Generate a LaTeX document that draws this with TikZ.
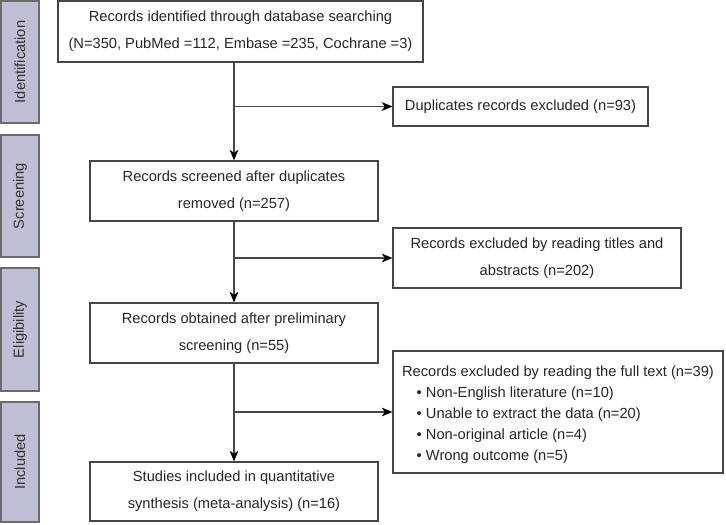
\documentclass[tikz,border=0pt]{standalone}
\usepackage{fontspec}
\setmainfont{Liberation Sans}
\usetikzlibrary{arrows.meta}
\definecolor{barfill}{RGB}{190,190,213}
\definecolor{linegray}{RGB}{70,70,70}
\tikzset{
  box/.style={draw=linegray, line width=0.8pt, fill=white, inner sep=2pt, align=center,
    font=\fontsize{11}{20.25}\selectfont, text=black!85},
  bar/.style={draw=linegray!80, line width=0.8pt, fill=barfill, minimum width=38*0.75pt,
    inner sep=0pt, font=\fontsize{11}{12}\selectfont, text=black!80},
  conn/.style={draw=linegray, line width=0.8pt},
  arr/.style={conn, -{Stealth[length=8pt,width=6.5pt,inset=2.2pt,fill=black,color=black]}},
}
\begin{document}
\begin{tikzpicture}[x=0.75pt,y=-0.75pt]
\useasboundingbox (0,0) rectangle (726,525);
% phase bars
\node[bar, minimum height=122*0.75pt] (bid) at (20,62) {\rotatebox{90}{Identification}};
\node[bar, minimum height=122*0.75pt] (bsc) at (20,196) {\rotatebox{90}{Screening}};
\node[bar, minimum height=123*0.75pt] (bel) at (20,329.5) {\rotatebox{90}{Eligibility}};
\node[bar, minimum height=120*0.75pt] (bin) at (20,462) {\rotatebox{90}{Included}};
% main boxes
\node[box, minimum width=365*0.75pt, minimum height=61*0.75pt] (top) at (240.5,31.5)
  {Records identified through database searching\\(N=350, PubMed =112, Embase =235, Cochrane =3)};
\node[box, minimum width=288*0.75pt, minimum height=60*0.75pt] (scr) at (234,191)
  {Records screened after duplicates\\removed (n=257)};
\node[box, minimum width=288*0.75pt, minimum height=60*0.75pt] (eli) at (234,333)
  {Records obtained after preliminary\\screening (n=55)};
\node[box, minimum width=288*0.75pt, minimum height=59*0.75pt] (inc) at (234,491.5)
  {Studies included in quantitative\\synthesis (meta-analysis) (n=16)};
% exclusion boxes
\node[box, minimum width=255*0.75pt, minimum height=39*0.75pt] (dup) at (520.5,106.5)
  {Duplicates records excluded (n=93)};
\node[box, minimum width=288*0.75pt, minimum height=60*0.75pt] (tit) at (537,258)
  {Records excluded by reading titles and\\abstracts (n=202)};
\node[box, minimum width=330*0.75pt, minimum height=122*0.75pt, align=left,
  font=\fontsize{11}{15.75}\selectfont] (ful) at (558,412)
  {\rule{0pt}{12.5pt}Records excluded by reading the full text (n=39)\\
   \hspace*{11pt}\textbullet\ Non-English literature (n=10)\\
   \hspace*{11pt}\textbullet\ Unable to extract the data (n=20)\\
   \hspace*{11pt}\textbullet\ Non-original article (n=4)\\
   \hspace*{11pt}\textbullet\ Wrong outcome (n=5)};
% connectors
\coordinate (j1) at (scr.north |- dup.west);
\coordinate (j2) at (scr.south |- tit.west);
\coordinate (j3) at (eli.south |- ful.west);
\draw[arr] (scr.north |- top.south) -- (scr.north);
\draw[arr] (j1) -- (dup.west);
\draw[arr] (scr.south) -- (eli.north);
\draw[arr] (j2) -- (tit.west);
\draw[arr] (eli.south) -- (inc.north);
\draw[arr] (j3) -- (ful.west);
\end{tikzpicture}
\end{document}
